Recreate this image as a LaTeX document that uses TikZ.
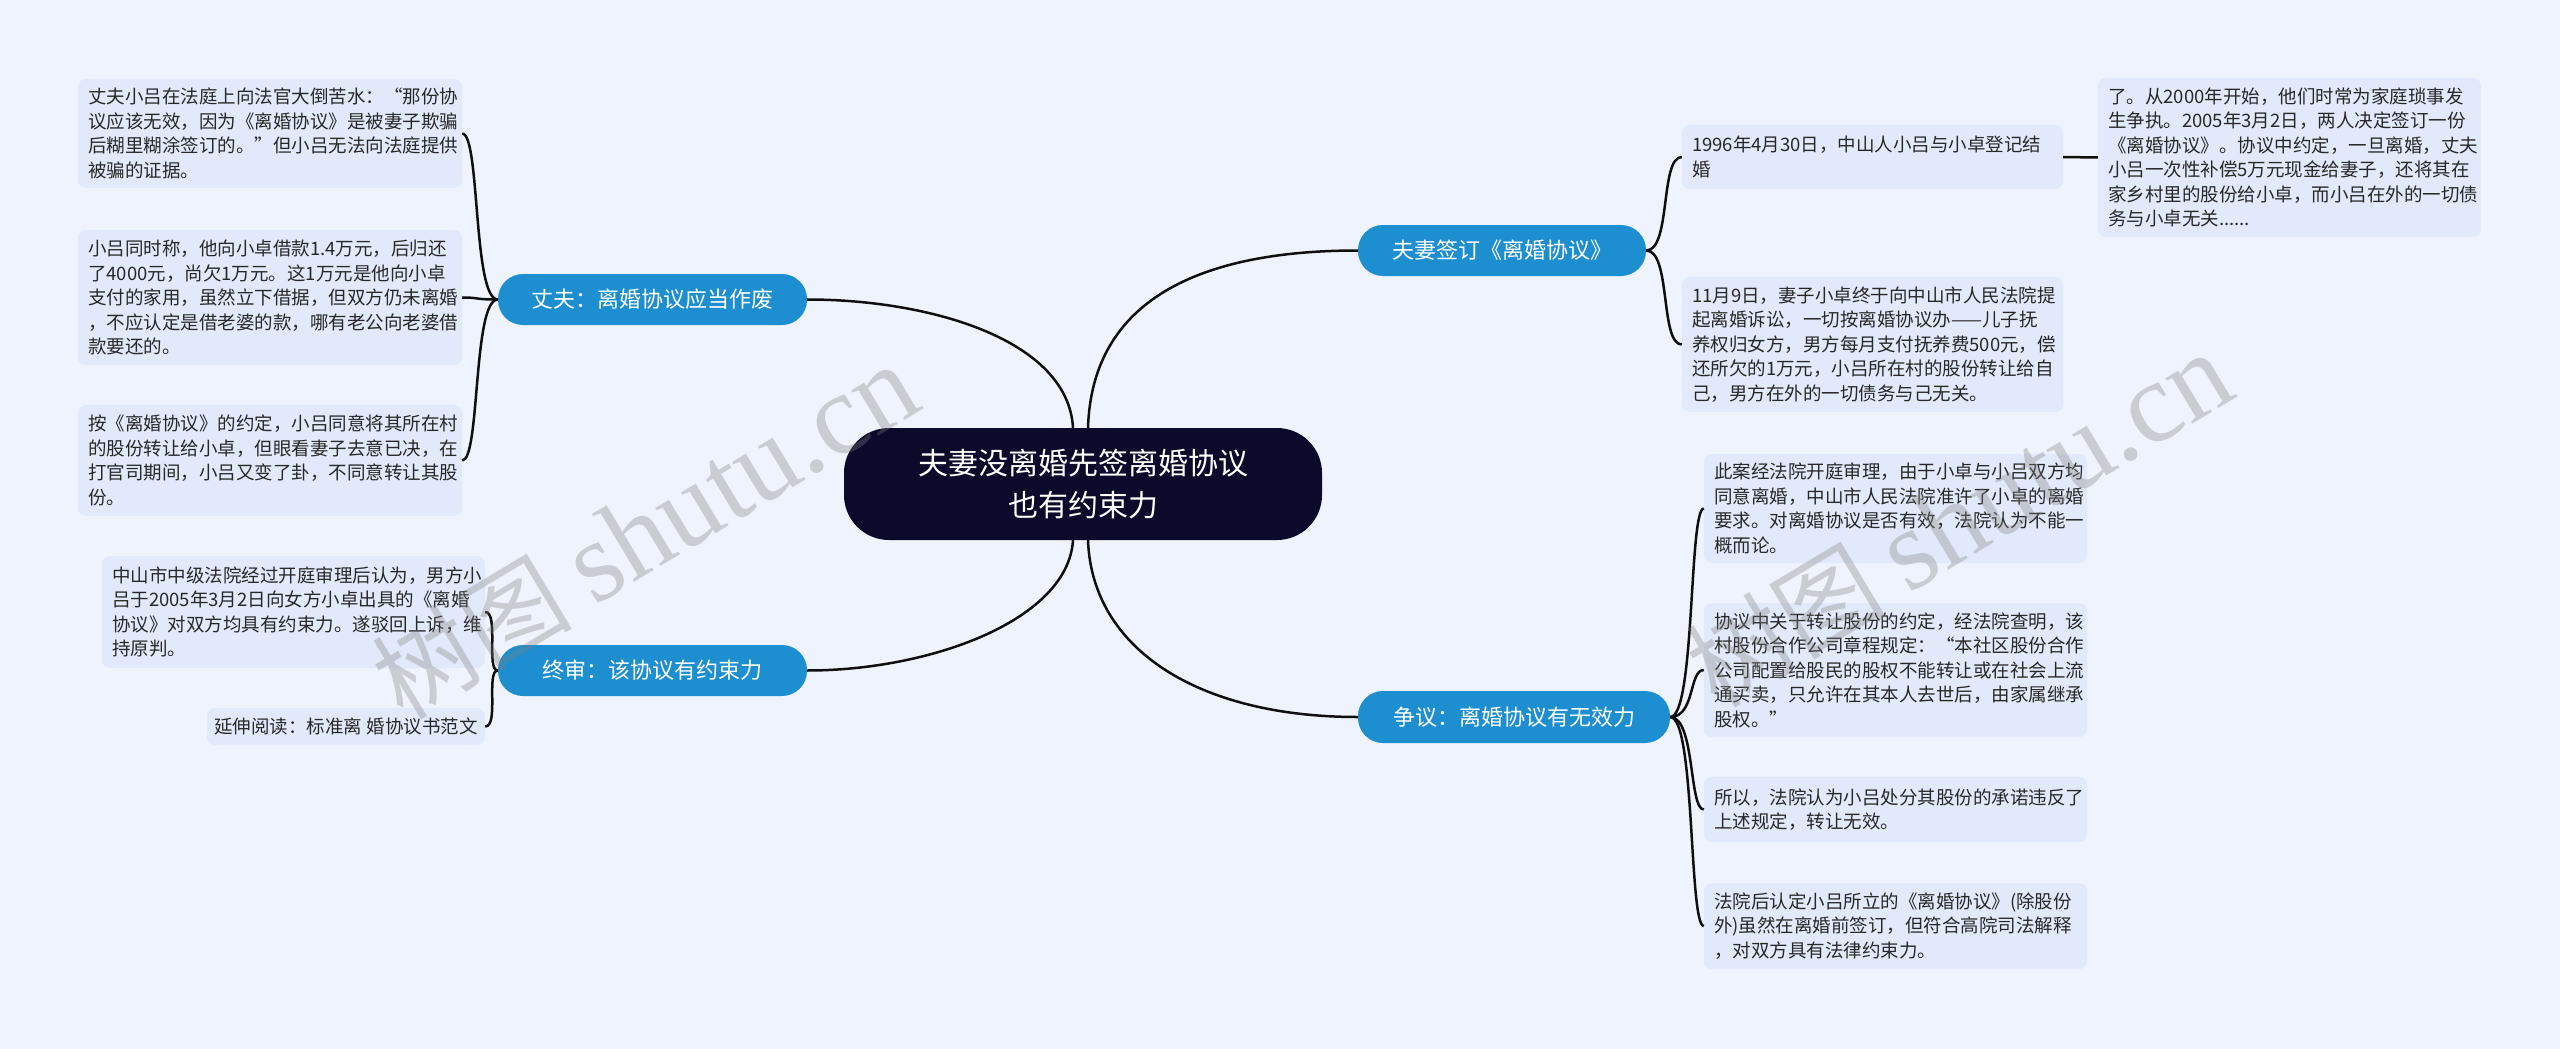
\documentclass[tikz,border=0pt]{standalone}
\usepackage{fontspec}
\setmainfont{Noto Sans CJK SC}
\newfontfamily\wmlatin{Liberation Serif}
\definecolor{bgc}{RGB}{238,243,253}
\definecolor{leaffill}{RGB}{225,233,250}
\definecolor{leaftext}{RGB}{40,40,40}
\definecolor{rootfill}{RGB}{12,10,43}
\definecolor{branchfill}{RGB}{29,142,208}
\definecolor{linec}{RGB}{15,15,15}
\tikzset{
  leaf/.style={fill=leaffill, rounded corners=8pt, align=left, inner xsep=10pt, inner ysep=0pt,
    font=\fontsize{18.5}{24.5}\selectfont, text=leaftext, anchor=center},
  branch/.style={fill=branchfill, rounded corners=25pt, text=white, inner sep=0pt,
    font=\fontsize{22}{26}\selectfont, anchor=center},
  rootbox/.style={fill=rootfill, rounded corners=45pt, text=white, inner sep=0pt, align=center,
    font=\fontsize{30}{42}\selectfont, anchor=center},
  conn/.style={draw=linec, line width=2.5pt},
  wmark/.style={text=gray, opacity=0.33, rotate=31, inner sep=0pt, font=\fontsize{100}{110}\selectfont}
}
\begin{document}
\begin{tikzpicture}[x=1pt,y=-1pt]
\fill[bgc] (0,0) rectangle (2560,1049);
\useasboundingbox (0,0) rectangle (2560,1049);

% root
\node[rootbox, minimum width=478pt, minimum height=112pt] (root) at (1083,484)
  {夫妻没离婚先签离婚协议\\也有约束力};

% branches
\node[branch, minimum width=288pt, minimum height=51pt] (B1) at (1502,250.5) {夫妻签订《离婚协议》};
\node[branch, minimum width=312pt, minimum height=52pt] (B2) at (1514,717) {争议：离婚协议有无效力};
\node[branch, minimum width=309pt, minimum height=51pt] (B3) at (652.5,299.5) {丈夫：离婚协议应当作废};
\node[branch, minimum width=309pt, minimum height=51pt] (B4) at (652.5,670.5) {终审：该协议有约束力};

% left leaves
\node[leaf, text width=364pt, minimum height=109pt] (L1) at (270,133.5)
  {丈夫小吕在法庭上向法官大倒苦水：“那份协\\议应该无效，因为《离婚协议》是被妻子欺骗\\后糊里糊涂签订的。”但小吕无法向法庭提供\\被骗的证据。};
\node[leaf, text width=364pt, minimum height=135pt] (L2) at (270,297.5)
  {小吕同时称，他向小卓借款1.4万元，后归还\\了4000元，尚欠1万元。这1万元是他向小卓\\支付的家用，虽然立下借据，但双方仍未离婚\\，不应认定是借老婆的款，哪有老公向老婆借\\款要还的。};
\node[leaf, text width=364pt, minimum height=111pt] (L3) at (270,460.5)
  {按《离婚协议》的约定，小吕同意将其所在村\\的股份转让给小卓，但眼看妻子去意已决，在\\打官司期间，小吕又变了卦，不同意转让其股\\份。};
\node[leaf, text width=363pt, minimum height=112pt] (L4) at (293.5,612)
  {中山市中级法院经过开庭审理后认为，男方小\\吕于2005年3月2日向女方小卓出具的《离婚\\协议》对双方均具有约束力。遂驳回上诉，维\\持原判。};
\node[leaf, align=center, inner xsep=0pt, minimum width=278pt, minimum height=37pt] (L5) at (346,726.5)
  {延伸阅读：标准离 婚协议书范文};

% right leaves
\node[leaf, text width=361pt, minimum height=64pt] (R1) at (1872.5,157)
  {1996年4月30日，中山人小吕与小卓登记结\\婚};
\node[leaf, text width=363pt, minimum height=159pt] (R2) at (2289.5,157.5)
  {了。从2000年开始，他们时常为家庭琐事发\\生争执。2005年3月2日，两人决定签订一份\\《离婚协议》。协议中约定，一旦离婚，丈夫\\小吕一次性补偿5万元现金给妻子，还将其在\\家乡村里的股份给小卓，而小吕在外的一切债\\务与小卓无关......};
\node[leaf, text width=361pt, minimum height=135pt] (R3) at (1872.5,344.5)
  {11月9日，妻子小卓终于向中山市人民法院提\\起离婚诉讼，一切按离婚协议办——儿子抚\\养权归女方，男方每月支付抚养费500元，偿\\还所欠的1万元，小吕所在村的股份转让给自\\己，男方在外的一切债务与己无关。};
\node[leaf, text width=363pt, minimum height=109pt] (R4) at (1895.5,508.5)
  {此案经法院开庭审理，由于小卓与小吕双方均\\同意离婚，中山市人民法院准许了小卓的离婚\\要求。对离婚协议是否有效，法院认为不能一\\概而论。};
\node[leaf, text width=363pt, minimum height=134pt] (R5) at (1895.5,670)
  {协议中关于转让股份的约定，经法院查明，该\\村股份合作公司章程规定：“本社区股份合作\\公司配置给股民的股权不能转让或在社会上流\\通买卖，只允许在其本人去世后，由家属继承\\股权。”};
\node[leaf, text width=363pt, minimum height=65pt] (R6) at (1895.5,809.5)
  {所以，法院认为小吕处分其股份的承诺违反了\\上述规定，转让无效。};
\node[leaf, text width=363pt, minimum height=86pt] (R7) at (1895.5,926)
  {法院后认定小吕所立的《离婚协议》(除股份\\外)虽然在离婚前签订，但符合高院司法解释\\，对双方具有法律约束力。};

% root connectors
\draw[conn] ([xshift=5pt]root.north) .. controls +(4,-128) and +(-158,0) .. (B1.west);
\draw[conn] ([xshift=-10pt]root.north) .. controls +(-5,-88) and +(123,0) .. (B3.east);
\draw[conn] ([xshift=-10pt]root.south) .. controls +(-5,80) and +(123,0) .. (B4.east);
\draw[conn] ([xshift=5pt]root.south) .. controls +(4,110) and +(-158,0) .. (B2.west);

% left children
\foreach \n in {L1,L2,L3}
  \draw[conn] (B3.west) .. controls +(-25,0) and +(18,0) .. (\n.east);
\foreach \n in {L4,L5}
  \draw[conn] (B4.west) .. controls +(-12,0) and +(14,0) .. (\n.east);

% right children
\foreach \n in {R1,R3}
  \draw[conn] (B1.east) .. controls +(25,0) and +(-22,0) .. (\n.west);
\draw[conn] (R1.east) -- (R2.west);
\foreach \n in {R4,R5,R6,R7}
  \draw[conn] (B2.east) .. controls +(25,0) and +(-15,0) .. (\n.west);

% watermarks
\node[wmark] (wm1) at (645,532) {树图 {\wmlatin\fontsize{115}{120}\selectfont shutu.cn}};
\node[wmark] (wm2) at (1959,520) {树图 {\wmlatin\fontsize{115}{120}\selectfont shutu.cn}};
\end{tikzpicture}
\end{document}
